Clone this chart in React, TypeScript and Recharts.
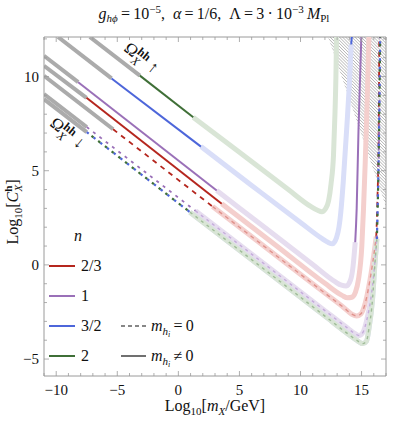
import React from "react";
import { Area, ComposedChart, Line, ReferenceLine, XAxis, YAxis } from "recharts";

// axes
const xDomain = [-11, 17];
const yDomain = [-5.9, 12.1];
const xTicks = [-11, -10, -9, -8, -7, -6, -5, -4, -3, -2, -1, 0, 1, 2, 3, 4, 5, 6, 7, 8, 9, 10, 11, 12, 13, 14, 15, 16, 17];
const yTicks = [-5, -4, -3, -2, -1, 0, 1, 2, 3, 4, 5, 6, 7, 8, 9, 10, 11, 12];
const xLabels = [-10, -5, 0, 5, 10, 15];
const yLabels = [-5, 0, 5, 10];

// m_hi != 0, n = 2
const greenExcluded = [[-7.25, 12.1], [-3.15, 10.05]];
const greenSolid = [[-3.15, 10.05], [1.22, 7.84]];
const greenFaded = [[1.22, 7.84], [5, 5.98], [9, 4.0], [10.8, 3.12], [11.4, 2.9], [11.75, 2.82], [12.05, 2.98], [12.3, 3.4], [12.5, 4.3], [12.7, 5.8], [12.82, 8.0], [12.9, 10.0], [12.95, 12.1]];

// n = 3/2
const blueExcluded = [[-9.85, 12.1], [-5.47, 9.9]];
const blueSolid = [[-5.47, 9.9], [1.85, 6.28]];
const blueFaded = [[1.85, 6.28], [6, 4.22], [10, 2.25], [11.8, 1.38], [12.25, 1.2], [12.6, 1.12], [12.95, 1.45], [13.15, 2.0], [13.3, 2.8], [13.5, 4.4], [13.8, 7.4], [14.0, 9.6], [14.15, 11.7]];
const blueTop = [[14.15, 11.7], [14.2, 12.1]];

// n = 1
const purpleExcluded = [[-11, 11.1], [-8.2, 9.7]];
const purpleSolid = [[-8.2, 9.7], [3.14, 3.95]];
const purpleFaded = [[3.14, 3.95], [7, 2.02], [11, 0.02], [12.8, -0.88], [13.35, -1.08], [13.75, -1.12], [14.1, -0.8], [14.3, -0.1], [14.48, 1.2]];
const purpleRise = [[14.48, 1.2], [14.6, 3.0], [14.75, 7.2], [14.88, 10.0], [14.98, 12.1]];

// n = 2/3
const redExcluded = [[-11, 10.57], [-7.52, 8.87]];
const redSolid = [[-7.52, 8.87], [3.55, 3.25]];
const redFaded = [[3.55, 3.25], [8, 1.03], [12, -0.98], [13.4, -1.62], [13.85, -1.75], [14.2, -1.72], [14.5, -1.45], [14.75, -0.76], [15.02, 1.0], [15.16, 3.0], [15.3, 5.45], [15.45, 8.5], [15.6, 12.1]];

// m_hi = 0
const redDashExcluded = [[-11, 10.04], [-5.34, 7.2]];
const redDash = [[-5.34, 7.2], [2.8, 3.1]];
const redDashFaded = [[2.8, 3.1], [8, 0.5], [12, -1.5], [13.6, -2.3], [14.2, -2.62], [14.6, -2.71], [14.95, -2.6], [15.2, -2.25], [15.7, -0.76], [16.1, 1.0], [16.2, 1.5]];
const redDashRise = [[16.2, 1.5], [16.3, 3.5], [16.4, 7.0], [16.45, 12.1]];

const purpleDashExcluded = [[-11, 9.07], [-7.5, 7.32]];
const purpleDash = [[-7.5, 7.32], [1.4, 2.87]];
const purpleDashFaded = [[1.4, 2.87], [7, 0.07], [12, -2.43], [13.8, -3.33], [14.4, -3.62], [14.8, -3.75], [15.1, -3.6], [15.4, -3.0], [15.8, -1.6], [16.1, 0.2], [16.25, 1.4]];
const purpleDashRise = [[16.25, 1.4], [16.35, 4.0], [16.45, 8.0], [16.5, 12.1]];

const bgDashExcluded = [[-11, 8.8], [-7.5, 7.05]];
const bgDash = [[-7.5, 7.05], [0.95, 2.8]];
const bgDashFaded = [[0.95, 2.8], [7, -0.22], [12, -2.72], [14, -3.72], [14.6, -4.0], [15.1, -4.18], [15.4, -4.05], [15.6, -3.4], [15.9, -1.8], [16.1, 0.13], [16.25, 1.37]];
const bgDashRise = [[16.25, 1.37], [16.35, 4.0], [16.45, 8.0], [16.52, 12.1]];

// hatched region (upper right)
const hatchEdge = [[12.26, 12.1], [17, 3.1]];

const RED = "#b5261e";
const PURPLE = "#9a70b8";
const BLUE = "#4d66da";
const GREEN = "#3f6f37";
const GRAY = "#ababab";
const RED_F = "#f4cfcd";
const PURPLE_F = "#e6ddef";
const BLUE_F = "#d9def8";
const GREEN_F = "#d9e5d6";
const FRAME = "#9a9a9a";
const serif = "Liberation Serif, Times New Roman, Times, DejaVu Serif, serif";

const PLOT_TOP = 37;
const PLOT_RIGHT = 386;

const pts = (a: number[][]) => a.map(([x, y]) => ({ x, y }));
const fmt = (v: number) => (v < 0 ? "\u2212" + Math.abs(v) : String(v));

function seg(key: string, data: number[][], stroke: string, width: number, dash?: string, offset?: number) {
  return (
    <Line
      key={key}
      data={pts(data)}
      dataKey="y"
      type="monotone"
      stroke={stroke}
      strokeWidth={width}
      strokeDasharray={dash}
      strokeDashoffset={offset}
      strokeLinecap="butt"
      dot={false}
      activeDot={false}
      legendType="none"
      isAnimationActive={false}
    />
  );
}

function XTick(props: any) {
  const { x, y, payload } = props;
  const v = payload.value;
  const len = v % 5 === 0 ? 5 : 3;
  return (
    <g>
      <line x1={x} x2={x} y1={y} y2={y - len} stroke={FRAME} strokeWidth={0.8} />
      <line x1={x} x2={x} y1={PLOT_TOP} y2={PLOT_TOP + len} stroke={FRAME} strokeWidth={0.8} />
      {xLabels.includes(v) && (
        <text x={x} y={y + 19} textAnchor="middle" fontSize={15} style={{ fontFamily: serif }} fill="#111">
          {fmt(v)}
        </text>
      )}
    </g>
  );
}

function YTick(props: any) {
  const { x, y, payload } = props;
  const v = payload.value;
  const len = v % 5 === 0 ? 5 : 3;
  return (
    <g>
      <line x1={x} x2={x + len} y1={y} y2={y} stroke={FRAME} strokeWidth={0.8} />
      <line x1={PLOT_RIGHT} x2={PLOT_RIGHT - len} y1={y} y2={y} stroke={FRAME} strokeWidth={0.8} />
      {yLabels.includes(v) && (
        <text x={x - 5} y={y + 5} textAnchor="end" fontSize={15} style={{ fontFamily: serif }} fill="#111">
          {fmt(v)}
        </text>
      )}
    </g>
  );
}

function Overlay() {
  const legendRows = [
    { y: 266, color: RED, label: "2/3" },
    { y: 296, color: PURPLE, label: "1" },
    { y: 326, color: BLUE, label: "3/2" },
    { y: 356, color: GREEN, label: "2" },
  ];
  return (
    <svg width={415} height={425} style={{ position: "absolute", left: 0, top: 0, pointerEvents: "none", fontFamily: serif }} fill="#111">
      <text x={214} y={19} textAnchor="middle" fontSize={16}>
        <tspan fontStyle="italic">g</tspan>
        <tspan fontSize={11} dy={3} fontStyle="italic">{"h\u03d5"}</tspan>
        <tspan dy={-3}>{"\u2009=\u200910"}</tspan>
        <tspan fontSize={11} dy={-6}>{"\u22125"}</tspan>
        <tspan dy={6}>{",\u2002"}</tspan>
        <tspan fontStyle="italic">{"\u03b1"}</tspan>
        <tspan>{"\u2009=\u20091/6,\u2002\u039b\u2009=\u20093\u2009\u00b7\u200910"}</tspan>
        <tspan fontSize={11} dy={-6}>{"\u22123"}</tspan>
        <tspan dy={6} fontStyle="italic">{"\u2009M"}</tspan>
        <tspan fontSize={11} dy={3}>Pl</tspan>
      </text>

      <text x={215} y={411} textAnchor="middle" fontSize={16}>
        <tspan>Log</tspan>
        <tspan fontSize={11} dy={4}>10</tspan>
        <tspan dy={-4}>[</tspan>
        <tspan fontStyle="italic">m</tspan>
        <tspan fontSize={11} dy={4} fontStyle="italic">X</tspan>
        <tspan dy={-4}>/GeV]</tspan>
      </text>

      <text x={18} y={212} textAnchor="middle" fontSize={16} transform="rotate(-90 18 212)">
        <tspan>Log</tspan>
        <tspan fontSize={11} dy={4}>10</tspan>
        <tspan dy={-4}>[</tspan>
        <tspan fontStyle="italic">C</tspan>
        <tspan fontSize={11} dy={-6} fontWeight="bold">h</tspan>
        <tspan fontSize={11} dx={-6} dy={10} fontStyle="italic">X</tspan>
        <tspan dy={-4}>]</tspan>
      </text>

      <text x={123} y={50} fontSize={17} transform="rotate(38.7 123 50)">
        <tspan>{"\u03a9"}</tspan>
        <tspan fontSize={12} dy={-6} fontWeight="bold">hh</tspan>
        <tspan fontSize={12} dx={-13} dy={11} fontStyle="italic">X</tspan>
        <tspan fontSize={17} dx={10} dy={-5}>{"\u2191"}</tspan>
      </text>
      <text x={49} y={125} fontSize={17} transform="rotate(38.7 49 125)">
        <tspan>{"\u03a9"}</tspan>
        <tspan fontSize={12} dy={-6} fontWeight="bold">hh</tspan>
        <tspan fontSize={12} dx={-13} dy={11} fontStyle="italic">X</tspan>
        <tspan fontSize={17} dx={10} dy={-5}>{"\u2193"}</tspan>
      </text>

      <text x={78} y={241} textAnchor="middle" fontSize={16} fontStyle="italic">n</text>
      {legendRows.map((r) => (
        <g key={r.label}>
          <line x1={49} x2={75} y1={r.y} y2={r.y} stroke={r.color} strokeWidth={2} />
          <text x={81} y={r.y + 5} fontSize={16}>{r.label}</text>
        </g>
      ))}
      <line x1={121} x2={146} y1={326} y2={326} stroke="#111" strokeWidth={1.2} strokeDasharray="4 3" />
      <text x={151} y={331} fontSize={16}>
        <tspan fontStyle="italic">m</tspan>
        <tspan fontSize={11} dy={4} fontStyle="italic">h</tspan>
        <tspan fontSize={8} dy={2} fontStyle="italic">i</tspan>
        <tspan dy={-6}>{"\u2009=\u20090"}</tspan>
      </text>
      <line x1={121} x2={146} y1={356} y2={356} stroke="#111" strokeWidth={1.2} />
      <text x={151} y={361} fontSize={16}>
        <tspan fontStyle="italic">m</tspan>
        <tspan fontSize={11} dy={4} fontStyle="italic">h</tspan>
        <tspan fontSize={8} dy={2} fontStyle="italic">i</tspan>
        <tspan dy={-6}>{"\u2009\u2260\u20090"}</tspan>
      </text>
    </svg>
  );
}

export default function App() {
  return (
    <div style={{ position: "absolute", left: 0, top: 0, width: 415, height: 425, background: "#fff" }}>
      <ComposedChart width={415} height={425} margin={{ top: PLOT_TOP, right: 29, left: 14, bottom: 19 }}>
        <defs>
          <pattern id="hatch" width={2.2} height={2.2} patternUnits="userSpaceOnUse" patternTransform="rotate(-45)">
            <line x1={0} y1={0} x2={0} y2={2.2} stroke="#7a7a7a" strokeWidth={0.8} />
          </pattern>
        </defs>
        <XAxis
          type="number"
          dataKey="x"
          domain={xDomain}
          ticks={xTicks}
          interval={0}
          allowDataOverflow
          height={30}
          tickSize={0}
          tickMargin={0}
          tickLine={false}
          axisLine={{ stroke: FRAME }}
          tick={(p: any) => <XTick {...p} />}
        />
        <YAxis
          type="number"
          domain={yDomain}
          ticks={yTicks}
          interval={0}
          allowDataOverflow
          width={30}
          tickSize={0}
          tickMargin={0}
          tickLine={false}
          axisLine={{ stroke: FRAME }}
          tick={(p: any) => <YTick {...p} />}
        />
        <ReferenceLine y={yDomain[1]} stroke={FRAME} />
        <ReferenceLine x={xDomain[1]} stroke={FRAME} />
        <Area
          data={pts(hatchEdge)}
          dataKey="y"
          type="linear"
          baseValue={yDomain[1]}
          stroke="none"
          fill="url(#hatch)"
          fillOpacity={1}
          isAnimationActive={false}
        />

        {seg("gF", greenFaded, GREEN_F, 5)}
        {seg("bF", blueFaded, BLUE_F, 5)}
        {seg("pF", purpleFaded, PURPLE_F, 5)}
        {seg("rF", redFaded, RED_F, 5)}
        {seg("rdF", redDashFaded, RED_F, 5)}
        {seg("pdF", purpleDashFaded, PURPLE_F, 5)}
        {seg("bdF", bgDashFaded, BLUE_F, 5)}
        {seg("gdF", bgDashFaded, GREEN_F, 5)}
        {seg("rdFd", redDashFaded, "#e0928c", 1.4, "4 4")}
        {seg("pdFd", purpleDashFaded, "#c5addb", 1.4, "3 4")}
        {seg("gdFd", bgDashFaded, "#9fbc98", 1.4, "3 4")}

        {seg("gE", greenExcluded, GRAY, 4)}
        {seg("bE", blueExcluded, GRAY, 4)}
        {seg("pE", purpleExcluded, GRAY, 4)}
        {seg("rE", redExcluded, GRAY, 4)}
        {seg("rdE", redDashExcluded, GRAY, 4)}
        {seg("pdE", purpleDashExcluded, GRAY, 4)}
        {seg("bdE", bgDashExcluded, GRAY, 4)}

        {seg("g", greenSolid, GREEN, 2)}
        {seg("b", blueSolid, BLUE, 2)}
        {seg("bT", blueTop, BLUE, 2)}
        {seg("p", purpleSolid, PURPLE, 2)}
        {seg("pR", purpleRise, PURPLE, 2)}
        {seg("r", redSolid, RED, 2)}

        {seg("rd", redDash, RED, 1.8, "5 5")}
        {seg("rdR", redDashRise, RED, 1.8, "5 5")}
        {seg("pd", purpleDash, PURPLE, 1.8, "3 5")}
        {seg("pdR", purpleDashRise, PURPLE, 1.8, "3 5")}
        {seg("bd", bgDash, BLUE, 2.2, "2.5 6")}
        {seg("bdR", bgDashRise, BLUE, 2.2, "2.5 6")}
        {seg("gd", bgDash, GREEN, 2.2, "2.5 6", 2.5)}
        {seg("gdR", bgDashRise, GREEN, 2.2, "2.5 6", 2.5)}
      </ComposedChart>
      <Overlay />
    </div>
  );
}
